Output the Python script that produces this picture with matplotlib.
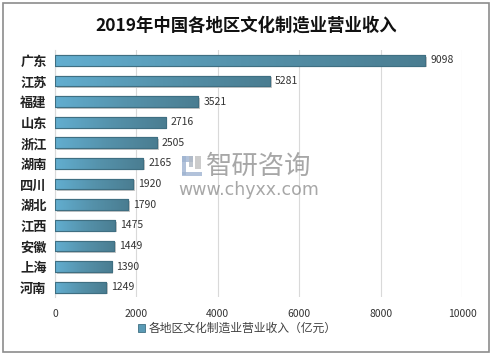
import matplotlib
matplotlib.use("Agg")
import matplotlib.pyplot as plt
import numpy as np
from matplotlib.patches import Rectangle
from matplotlib.colors import LinearSegmentedColormap

plt.rcParams['font.family'] = ['Noto Sans CJK SC', 'DejaVu Sans']

categories = ["广东", "江苏", "福建", "山东", "浙江", "湖南", "四川", "湖北", "江西", "安徽", "上海", "河南"]
values = [9098, 5281, 3521, 2716, 2505, 2165, 1920, 1790, 1475, 1449, 1390, 1249]
xticks = [0, 2000, 4000, 6000, 8000, 10000]
title = "2019年中国各地区文化制造业营业收入"
legend_label = "各地区文化制造业营业收入（亿元）"

fig = plt.figure(figsize=(4.92, 3.55), dpi=100)
fig.patch.set_facecolor("white")
fig.add_artist(Rectangle((0.006, 0.008), 0.988, 0.984, transform=fig.transFigure,
                         fill=False, edgecolor="#8c8c8c", linewidth=1.2))

ax = fig.add_axes([0.112, 0.162, 0.827, 0.697])
y = np.arange(len(categories))
bars = ax.barh(y, values, height=0.52, color="#5a9ab5", edgecolor="#3f6f82", linewidth=0.8, zorder=3)

grad = np.linspace(0, 1, 256).reshape(1, -1)
cmap = LinearSegmentedColormap.from_list("g", ["#62aed0", "#5592ab", "#4a7d91"])
for b in bars:
    x0, y0 = b.get_x(), b.get_y()
    w, h = b.get_width(), b.get_height()
    ax.add_patch(Rectangle((x0 + 40, y0 + 0.08), w, h, color="#c8c8c8", zorder=2, linewidth=0))
    im = ax.imshow(grad, extent=[x0, x0 + w, y0 + h, y0], aspect="auto", cmap=cmap, zorder=3.5)
    im.set_clip_path(b)
    ax.add_patch(Rectangle((x0, y0), w, h, fill=False, edgecolor="#3f6f82", linewidth=0.8, zorder=4))

for yi, v in zip(y, values):
    ax.text(v + 120, yi, str(v), va="center", ha="left", fontsize=7.5, color="#333333", zorder=5)

ax.set_xlim(0, 10000)
ax.set_ylim(len(categories) - 0.5, -0.5)
ax.set_xticks(xticks)
ax.set_xticklabels([str(t) for t in xticks], fontsize=7.5, color="#333333")
ax.set_yticks(y)
ax.set_yticklabels(categories, fontsize=9.5, fontweight="bold", color="#222222")
ax.tick_params(axis="both", length=0, pad=8)
ax.tick_params(axis="y", pad=6)
ax.grid(axis="x", color="#d9d9d9", linewidth=0.8, zorder=0)
for s in ["top", "right", "bottom"]:
    ax.spines[s].set_visible(False)
ax.spines["left"].set_color("#d9d9d9")
ax.spines["left"].set_zorder(1)

fig.text(0.5, 0.928, title, ha="center", va="center", fontsize=12.5, fontweight="bold", color="#111111")

# legend
fig.add_artist(Rectangle((0.281, 0.066), 0.014, 0.02, transform=fig.transFigure,
                         facecolor="#5a9ab5", edgecolor="#3f6f82", linewidth=0.6))
fig.text(0.302, 0.076, legend_label, ha="left", va="center", fontsize=8.5, color="#404040")

# watermark
fig.text(0.525, 0.530, "智研咨询", ha="center", va="center", fontsize=19, color="#8a8a8a", alpha=0.75)
fig.text(0.505, 0.465, "www.chyxx.com", ha="center", va="center",
         fontsize=12.5, color="#8a8a8a", alpha=0.75, family="DejaVu Sans")
# logo
lc = "#9fb3d1"
for (lx, ly, lw, lh, c) in [(0.370, 0.545, 0.022, 0.016, lc), (0.370, 0.508, 0.009, 0.053, lc),
                            (0.384, 0.530, 0.008, 0.031, "#b0b8c4"), (0.370, 0.503, 0.040, 0.012, lc),
                            (0.396, 0.525, 0.012, 0.036, "#c0c0c0")]:
    fig.add_artist(Rectangle((lx, ly), lw, lh, transform=fig.transFigure, facecolor=c,
                             edgecolor="none", alpha=0.8))

fig.savefig("out.png", dpi=100, facecolor="white")
